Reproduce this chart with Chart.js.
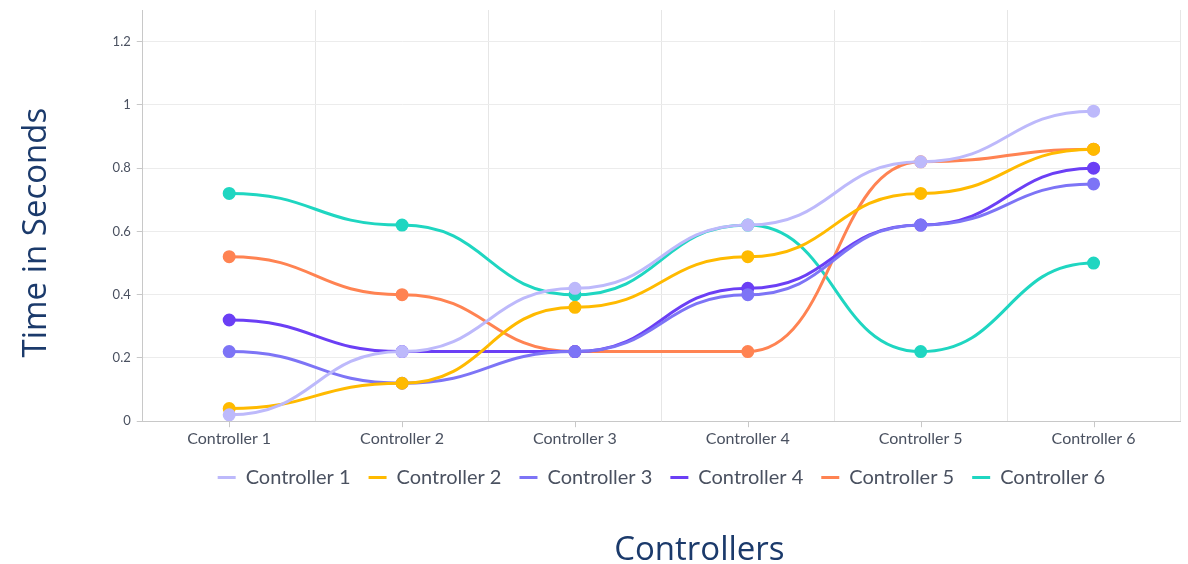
<!DOCTYPE html>
<html>
<head>
<meta charset="utf-8">
<script src="https://cdn.jsdelivr.net/npm/chart.js@4/dist/chart.umd.min.js"></script>
<style>
  html, body { margin: 0; padding: 0; background: #ffffff; }
  #wrap { width: 1188px; height: 564px; position: relative; }
</style>
</head>
<body>
<div id="wrap"><canvas id="c" width="1188" height="564"></canvas></div>
<script>
const categories = ["Controller 1", "Controller 2", "Controller 3", "Controller 4", "Controller 5", "Controller 6"];
const seriesNames = ["Controller 1", "Controller 2", "Controller 3", "Controller 4", "Controller 5", "Controller 6"];
const controller1 = [0.02, 0.22, 0.42, 0.62, 0.82, 0.98];
const controller2 = [0.04, 0.12, 0.36, 0.52, 0.72, 0.86];
const controller3 = [0.22, 0.12, 0.22, 0.40, 0.62, 0.75];
const controller4 = [0.32, 0.22, 0.22, 0.42, 0.62, 0.80];
const controller5 = [0.52, 0.40, 0.22, 0.22, 0.82, 0.86];
const controller6 = [0.72, 0.62, 0.40, 0.62, 0.22, 0.50];
const yTicks = [0, 0.2, 0.4, 0.6, 0.8, 1, 1.2];
const xTitle = "Controllers";
const yTitle = "Time in Seconds";

const seriesValues = [controller1, controller2, controller3, controller4, controller5, controller6];
const colors = ["#bdb9fb", "#ffba00", "#7d74f6", "#6b3ff5", "#ff8352", "#1fd6c1"];

const datasets = seriesValues.map((vals, i) => ({
  label: seriesNames[i],
  data: vals,
  borderColor: colors[i],
  backgroundColor: colors[i],
  pointBackgroundColor: colors[i],
  pointBorderColor: colors[i],
  borderWidth: 3,
  pointRadius: 5,
  pointHoverRadius: 5,
  tension: 0.4,
  fill: false
}));

// Smooth curves with horizontal tangents at every data point
const flatTangents = {
  id: 'flatTangents',
  beforeDatasetDraw(chart, args) {
    const meta = chart.getDatasetMeta(args.index);
    const line = meta.dataset;
    if (!line) return;
    line.updateControlPoints(chart.chartArea, meta.indexAxis);
    const pts = meta.data;
    const k = 0.5;
    for (let i = 0; i < pts.length; i++) {
      const p = pts[i];
      const prev = pts[i - 1], next = pts[i + 1];
      const dPrev = prev ? p.x - prev.x : 0;
      const dNext = next ? next.x - p.x : 0;
      p.cp1x = p.x - k * dPrev; p.cp1y = p.y;
      p.cp2x = p.x + k * dNext; p.cp2y = p.y;
    }
  }
};

// Nudge the captions and legend to where the reference places them
const captionShift = {
  id: 'captionShift',
  afterLayout(chart) {
    chart.boxes.forEach(b => {
      if (b === chart.legend) { b.top -= 7; b.bottom -= 7; return; }
      if (!b.options || b.options.text === undefined) return;
      if (b.options.text === xTitle) { b.left += 38; b.right += 38; b.top += 12; b.bottom += 12; }
      if (b.options.text === yTitle) { b.top += 17; b.bottom += 17; }
    });
  }
};

const centerTicks = {
  id: 'centerTicks',
  afterDraw(chart) {
    const x = chart.scales.x;
    const ctx = chart.ctx;
    ctx.save();
    ctx.strokeStyle = '#c8c8c8';
    ctx.lineWidth = 1;
    for (let i = 0; i < categories.length; i++) {
      const px = Math.round(x.getPixelForValue(i)) + 0.5;
      ctx.beginPath();
      ctx.moveTo(px, x.top);
      ctx.lineTo(px, x.top + 6);
      ctx.stroke();
    }
    ctx.restore();
  }
};

new Chart(document.getElementById('c'), {
  type: 'line',
  data: { labels: categories, datasets },
  plugins: [flatTangents, captionShift, centerTicks],
  options: {
    responsive: false,
    animation: false,
    layout: { padding: { left: 17, right: -5, top: 10, bottom: 2 } },
    plugins: {
      tooltip: { enabled: false },
      legend: {
        position: 'bottom',
        fullSize: false,
        labels: {
          font: { family: 'Lato', size: 20 },
          color: '#4a5160',
          boxWidth: 18,
          boxHeight: 3,
          padding: 18,
          generateLabels(chart) {
            return chart.data.datasets.map((d, i) => ({
              text: d.label,
              fillStyle: d.borderColor,
              strokeStyle: d.borderColor,
              lineWidth: 0,
              hidden: false,
              datasetIndex: i,
              fontColor: '#4a5160'
            }));
          }
        }
      },
      title: {
        display: true,
        position: 'bottom',
        fullSize: false,
        text: xTitle,
        font: { family: 'Open Sans', size: 33, weight: 'normal' },
        color: '#1b3a6b',
        padding: { top: 14, bottom: 4 }
      },
      subtitle: {
        display: true,
        position: 'left',
        fullSize: false,
        text: yTitle,
        font: { family: 'Open Sans', size: 33, weight: 'normal' },
        color: '#1b3a6b',
        padding: { top: 0, bottom: 50 }
      }
    },
    scales: {
      x: {
        offset: true,
        afterFit(scale) {
          scale.paddingLeft = 0;
          scale.paddingRight = 0;
        },
        grid: { offset: true, color: '#e6e6e6', drawTicks: false },
        border: { color: '#c8c8c8' },
        ticks: { font: { family: 'Lato', size: 16 }, color: '#4a5160', padding: 8, maxRotation: 0 }
      },
      y: {
        min: 0,
        max: 1.3,
        afterBuildTicks(scale) {
          scale.ticks = yTicks.map(v => ({ value: v }));
        },
        afterFit(scale) {
          scale.paddingTop = 0;
          scale.paddingBottom = 0;
        },
        grid: { color: '#ececec', tickLength: 6, tickColor: '#c8c8c8' },
        border: { color: '#c8c8c8' },
        ticks: {
          font: { family: 'Lato', size: 13 },
          color: '#4a5160',
          padding: 6,
          callback: v => String(Math.round(v * 10) / 10)
        }
      }
    }
  }
});
</script>
</body>
</html>
